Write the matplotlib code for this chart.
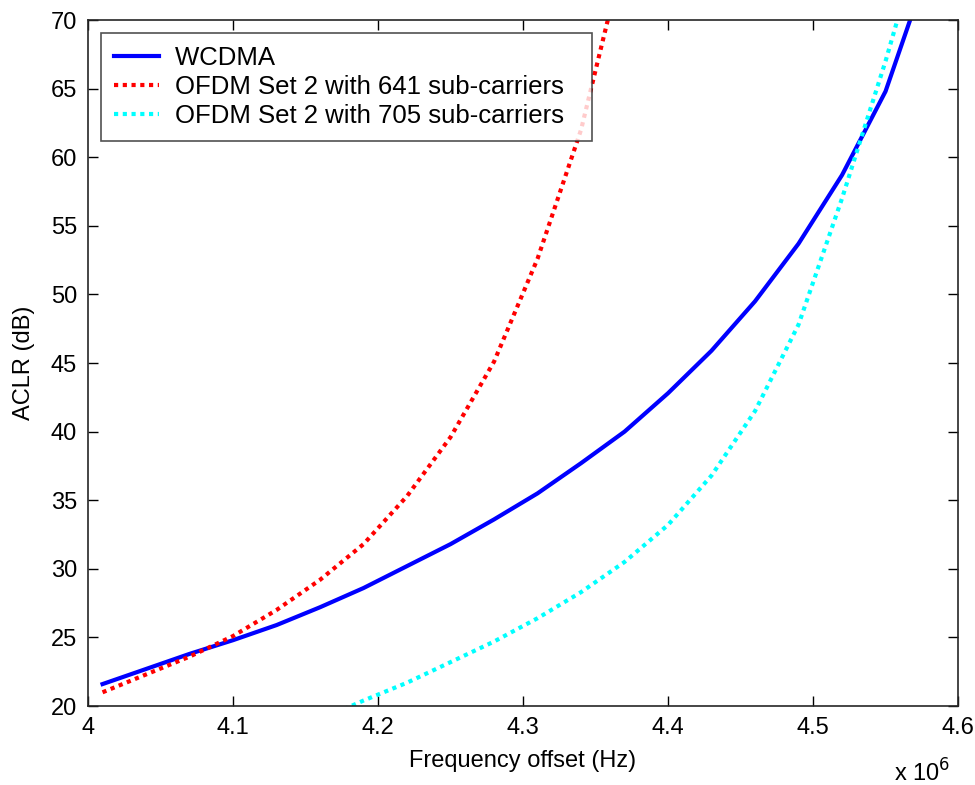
import numpy as np
import matplotlib
matplotlib.use('Agg')
from matplotlib import pyplot as plt
from matplotlib.ticker import FuncFormatter

plt.rcParams['font.family'] = ['Liberation Sans', 'DejaVu Sans']

# frequency offset (Hz)
freq = [4.01e6, 4.04e6, 4.07e6, 4.10e6, 4.13e6, 4.16e6, 4.19e6, 4.22e6, 4.25e6,
        4.28e6, 4.31e6, 4.34e6, 4.37e6, 4.40e6, 4.43e6, 4.46e6, 4.49e6, 4.52e6,
        4.55e6, 4.58e6]

# ACLR (dB)
aclr_wcdma = [21.6, 22.7, 23.8, 24.8, 25.9, 27.2, 28.6, 30.2, 31.8,
              33.6, 35.5, 37.7, 40.0, 42.8, 45.9, 49.5, 53.7, 58.7,
              64.8, 74.0]
aclr_641 = [21.0, 22.3, 23.6, 25.1, 27.0, 29.2, 31.8, 35.3, 39.6,
            45.1, 52.6, 62.0, 75.0]
aclr_705 = [19.0, 20.4, 21.7, 23.2, 24.7, 26.4, 28.3, 30.5, 33.2,
            36.8, 41.5, 47.8, 57.0, 67.0, 78.0]

labels = ['WCDMA', 'OFDM Set 2 with 641 sub-carriers', 'OFDM Set 2 with 705 sub-carriers']

fig = plt.figure(figsize=(9.75, 7.85), dpi=100)
ax = fig.add_axes([0.0903, 0.1006, 0.8923, 0.8739])

ax.plot(freq, aclr_wcdma, color='#0000ff', lw=3, label=labels[0])
ax.plot(freq[:len(aclr_641)], aclr_641, color='#ff0000', lw=3,
        dashes=(1, 1.1), label=labels[1])
ax.plot(freq[5:5 + len(aclr_705)], aclr_705, color='#00ffff', lw=3,
        dashes=(1, 1.1), label=labels[2])

ax.set_xlim(4.0e6, 4.6e6)
ax.set_ylim(20, 70)
ax.set_xticks(np.arange(4.0e6, 4.61e6, 0.1e6))
ax.set_yticks(np.arange(20, 71, 5))
ax.xaxis.set_major_formatter(FuncFormatter(lambda v, p: '%g' % round(v / 1e6, 2)))
ax.tick_params(direction='in', top=True, right=True, length=7, width=1,
               labelsize=17, pad=8)
for s in ax.spines.values():
    s.set_color('#262626')
    s.set_linewidth(1.2)

ax.set_xlabel('Frequency offset (Hz)', fontsize=17, labelpad=8)
ax.set_ylabel('ACLR (dB)', fontsize=17, labelpad=11)
fig.text(0.917, -0.002, r'x 10$^6$', fontsize=17, ha='left', va='bottom')

leg = ax.legend(loc='upper left', fontsize=18.5, frameon=True, fancybox=False,
                edgecolor='#262626', handlelength=1.75, handletextpad=0.65,
                borderaxespad=0.5, labelspacing=0.2, borderpad=0.5)
leg.get_frame().set_linewidth(1.2)
# extra room on the right side of the legend box, like the original
for t in leg.get_texts():
    t.set_text(t.get_text() + '  ')

fig.savefig('out.png', dpi=100)
